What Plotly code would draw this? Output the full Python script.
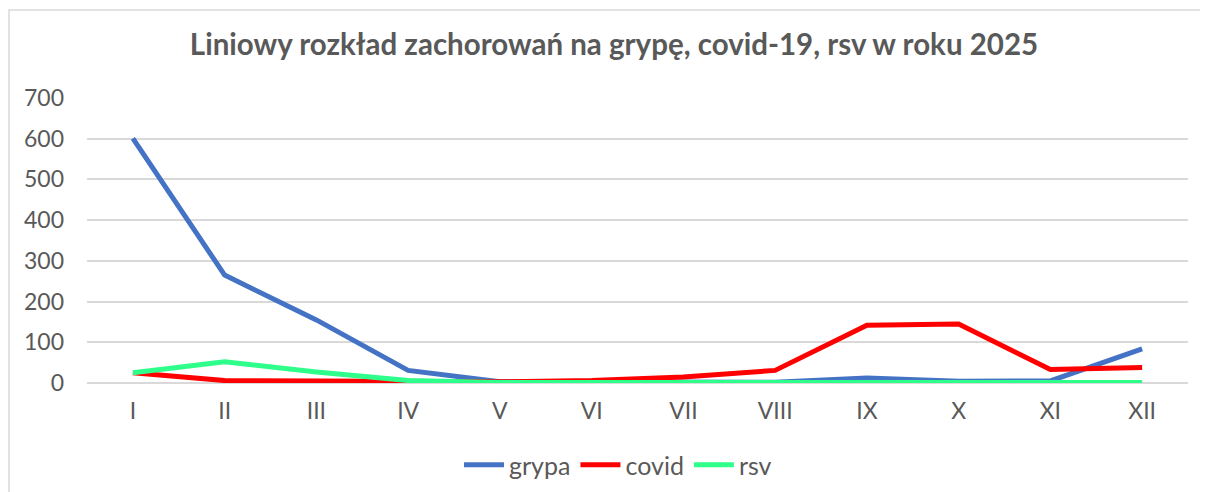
import plotly.graph_objects as go

months = ["I", "II", "III", "IV", "V", "VI", "VII", "VIII", "IX", "X", "XI", "XII"]
grypa = [601, 265, 155, 31, 3, 2, 2, 2, 12, 4, 5, 84]
covid = [25, 6, 5, 3, 3, 6, 15, 31, 142, 145, 33, 38]
rsv = [25, 52, 27, 6, 1, 1, 1, 1, 1, 1, 1, 1]
y_ticks = [0, 100, 200, 300, 400, 500, 600, 700]

FONT = "Lato, 'Open Sans', sans-serif"
GRAY = "#595959"

W, H = 1200, 484
L, R, T, B = 79, 20, 90, 109
PW, PH = W - L - R, H - T - B

fig = go.Figure()
for name, vals, col in [("grypa", grypa, "#4472C4"), ("covid", covid, "#FF0000"), ("rsv", rsv, "#2EFF8A")]:
    fig.add_trace(go.Scatter(x=months, y=vals, name=name, mode="lines",
                             line=dict(color=col, width=5)))

fig.update_layout(
    width=W, height=H,
    margin=dict(l=L, r=R, t=T, b=B),
    paper_bgcolor="white", plot_bgcolor="white",
    title=dict(text="<b>Liniowy rozkład zachorowań na grypę, covid-19, rsv w roku 2025</b>",
               x=(614 - 8) / W, xanchor="center", xref="container",
               y=1 - 37 / H, yanchor="middle",
               font=dict(family=FONT, size=29.5, color=GRAY)),
    font=dict(family=FONT, size=23, color=GRAY),
    legend=dict(orientation="h", x=(618 - 8) / W, xanchor="center", xref="container",
                y=1 - 457 / H, yanchor="middle", yref="container",
                font=dict(family=FONT, size=25, color=GRAY), itemwidth=40,
                tracegroupgap=0),
    showlegend=True,
)
fig.update_xaxes(type="category", range=[-0.5, 11.5], showgrid=False, showline=False,
                 zeroline=False, ticks="", ticklabelstandoff=12,
                 tickfont=dict(family=FONT, size=23, color=GRAY))
fig.update_yaxes(range=[0, 700], tickvals=y_ticks, showgrid=True, gridcolor="#D9D9D9",
                 gridwidth=1.5, zeroline=True, zerolinecolor="#D9D9D9", zerolinewidth=1.5,
                 showline=False, ticks="", ticklabelstandoff=22,
                 tickfont=dict(family=FONT, size=23, color=GRAY))
fig.add_shape(type="rect", xref="paper", yref="paper",
              x0=(1 - L) / PW, x1=(W + 10 - L) / PW,
              y0=-(B + 10) / PH, y1=1 + (T - 2) / PH,
              line=dict(color="#D9D9D9", width=1.5), layer="below")
fig.write_html("out.html")
